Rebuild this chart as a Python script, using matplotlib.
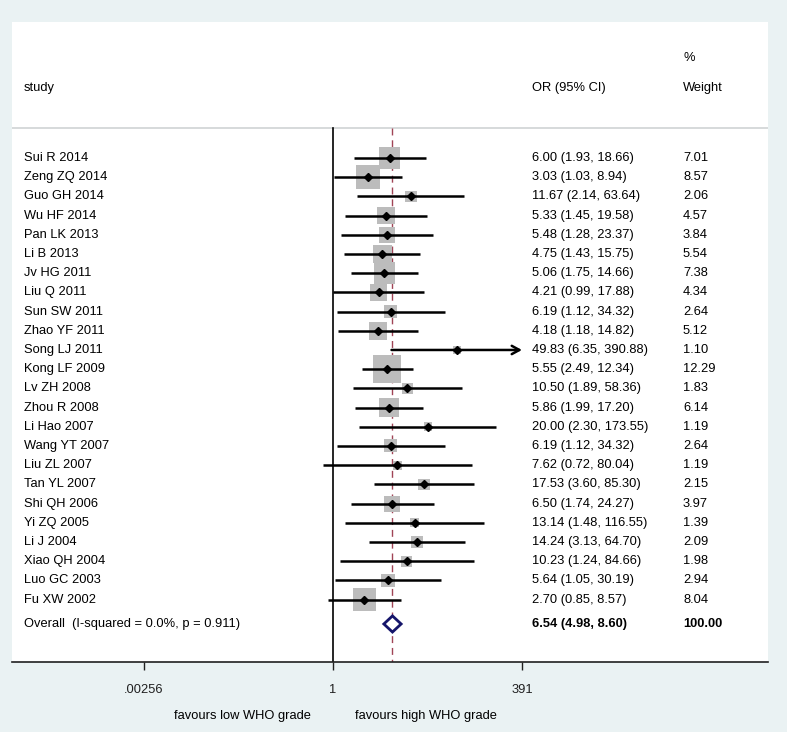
import numpy as np
import matplotlib.pyplot as plt
import matplotlib.transforms as mtransforms
from matplotlib.patches import Polygon

plt.rcParams['font.family'] = ['Liberation Sans', 'DejaVu Sans']

# --- study data ---
studies = ["Sui R 2014", "Zeng ZQ 2014", "Guo GH 2014", "Wu HF 2014", "Pan LK 2013",
           "Li B 2013", "Jv HG 2011", "Liu Q 2011", "Sun SW 2011", "Zhao YF 2011",
           "Song LJ 2011", "Kong LF 2009", "Lv ZH 2008", "Zhou R 2008", "Li Hao 2007",
           "Wang YT 2007", "Liu ZL 2007", "Tan YL 2007", "Shi QH 2006", "Yi ZQ 2005",
           "Li J 2004", "Xiao QH 2004", "Luo GC 2003", "Fu XW 2002"]
odds = [6.00, 3.03, 11.67, 5.33, 5.48, 4.75, 5.06, 4.21, 6.19, 4.18, 49.83, 5.55,
        10.50, 5.86, 20.00, 6.19, 7.62, 17.53, 6.50, 13.14, 14.24, 10.23, 5.64, 2.70]
lower = [1.93, 1.03, 2.14, 1.45, 1.28, 1.43, 1.75, 0.99, 1.12, 1.18, 6.35, 2.49,
         1.89, 1.99, 2.30, 1.12, 0.72, 3.60, 1.74, 1.48, 3.13, 1.24, 1.05, 0.85]
upper = [18.66, 8.94, 63.64, 19.58, 23.37, 15.75, 14.66, 17.88, 34.32, 14.82, 390.88, 12.34,
         58.36, 17.20, 173.55, 34.32, 80.04, 85.30, 24.27, 116.55, 64.70, 84.66, 30.19, 8.57]
weights = [7.01, 8.57, 2.06, 4.57, 3.84, 5.54, 7.38, 4.34, 2.64, 5.12, 1.10, 12.29,
           1.83, 6.14, 1.19, 2.64, 1.19, 2.15, 3.97, 1.39, 2.09, 1.98, 2.94, 8.04]

overall_label = "Overall  (I-squared = 0.0%, p = 0.911)"
overall_or, overall_lo, overall_hi = 6.54, 4.98, 8.60
overall_weight = 100.00

tick_vals = [0.00256, 1, 391]
tick_labels = [".00256", "1", "391"]

# --- figure ---
bg = '#eaf2f3'
fig = plt.figure(figsize=(7.87, 7.32), dpi=100, facecolor=bg)
ax = fig.add_axes([12 / 787, 70 / 732, 756 / 787, 640 / 732])
ax.set_facecolor('white')

n = len(studies)
rows = np.arange(1, n + 1)
y_overall = n + 1.27
y_header_line = -0.5625
y_bottom, y_top = 27.25, -6.08

ax.set_xscale('log')
ax.set_xlim(np.exp(-10.14), np.exp(13.74))
ax.set_ylim(y_bottom, y_top)

fs = 9.3
blend = mtransforms.blended_transform_factory(ax.transAxes, ax.transData)
blend_x = mtransforms.blended_transform_factory(ax.transData, ax.transAxes)
x_study, x_or, x_w = 0.0159, 0.688, 0.8876

# header
ax.axhline(y_header_line, color='#cfd3d4', lw=1.2)
ax.text(x_study, y_header_line - 2.1, "study", transform=blend, fontsize=fs, va='center')
ax.text(x_or, y_header_line - 2.1, "OR (95% CI)", transform=blend, fontsize=fs, va='center')
ax.text(x_w, y_header_line - 3.65, "%", transform=blend, fontsize=fs, va='center')
ax.text(x_w, y_header_line - 2.1, "Weight", transform=blend, fontsize=fs, va='center')

# reference lines
ax.plot([1, 1], [y_header_line, y_bottom], color='black', lw=1.2, zorder=2)
ax.plot([overall_or, overall_or], [y_header_line, y_bottom], color='#a04456', lw=1,
        dashes=(5, 3.5), zorder=2)

# study boxes, CIs, points
xmax = tick_vals[-1]
ax.scatter(odds, rows, s=33 * np.array(weights), marker='s', color='#bcbcbc',
           edgecolors='none', zorder=3)
for y, o, lo, hi in zip(rows, odds, lower, upper):
    if hi >= 0.99 * xmax:
        ax.annotate('', xy=(xmax, y), xytext=(lo, y),
                    arrowprops=dict(arrowstyle='->,head_length=0.55,head_width=0.3',
                                    color='black', lw=1.8, shrinkA=0, shrinkB=0),
                    zorder=4)
    else:
        ax.plot([lo, hi], [y, y], color='black', lw=1.8, zorder=4, solid_capstyle='butt')
ax.plot(odds, rows, 'D', color='black', markersize=3.6, zorder=5)

# overall diamond
h = 0.42
diamond = Polygon([(overall_lo, y_overall), (overall_or, y_overall - h),
                   (overall_hi, y_overall), (overall_or, y_overall + h)],
                  closed=True, facecolor='white', edgecolor='#15156a', lw=2, zorder=5)
ax.add_patch(diamond)

# text columns
for y, name, o, lo, hi, w in zip(rows, studies, odds, lower, upper, weights):
    ax.text(x_study, y, name, transform=blend, fontsize=fs, va='center')
    ax.text(x_or, y, f"{o:.2f} ({lo:.2f}, {hi:.2f})", transform=blend, fontsize=fs, va='center')
    ax.text(x_w, y, f"{w:.2f}", transform=blend, fontsize=fs, va='center')
ax.text(x_study, y_overall, overall_label, transform=blend, fontsize=fs, va='center')
ax.text(x_or, y_overall, f"{overall_or:.2f} ({overall_lo:.2f}, {overall_hi:.2f})",
        transform=blend, fontsize=fs, va='center', fontweight='bold')
ax.text(x_w, y_overall, f"{overall_weight:.2f}", transform=blend, fontsize=fs,
        va='center', fontweight='bold')

# axis
for side in ['top', 'left', 'right']:
    ax.spines[side].set_visible(False)
ax.spines['bottom'].set_color('#202020')
ax.spines['bottom'].set_linewidth(1.2)
ax.set_yticks([])
ax.set_xticks(tick_vals)
ax.set_xticklabels(tick_labels, fontsize=fs)
ax.minorticks_off()
ax.tick_params(axis='x', direction='out', length=6, width=1, pad=10, colors='#202020')

ax.annotate("favours low WHO grade", xy=(1, 0), xycoords=blend_x, xytext=(-16, -39),
            textcoords='offset points', ha='right', va='center', fontsize=fs)
ax.annotate("favours high WHO grade", xy=(1, 0), xycoords=blend_x, xytext=(16, -39),
            textcoords='offset points', ha='left', va='center', fontsize=fs)

fig.savefig('out.png', dpi=100, facecolor=bg)
